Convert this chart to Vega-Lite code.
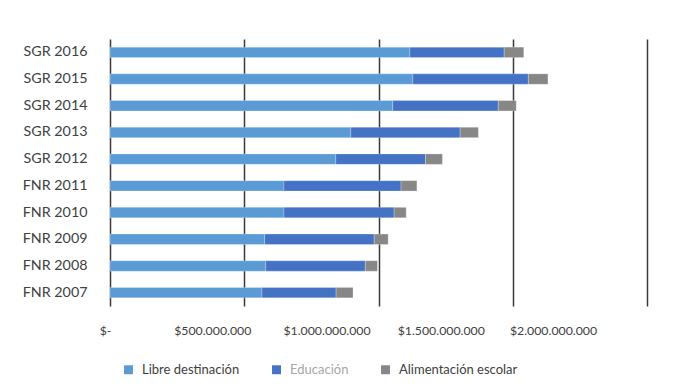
{
  "$schema": "https://vega.github.io/schema/vega-lite/v6.json",
  "width": 537,
  "height": 267,
  "autosize": {"type": "none"},
  "padding": {"left": 110, "top": 39, "right": 48, "bottom": 80},
  "background": "white",
  "data": {
    "values": [
      {"fondo": "SGR 2016", "serie": "Libre destinación", "k": 1, "valor": 1117000000},
      {"fondo": "SGR 2016", "serie": "Educación", "k": 2, "valor": 351000000},
      {"fondo": "SGR 2016", "serie": "Alimentación escolar", "k": 3, "valor": 73000000},
      {"fondo": "SGR 2015", "serie": "Libre destinación", "k": 1, "valor": 1128000000},
      {"fondo": "SGR 2015", "serie": "Educación", "k": 2, "valor": 430000000},
      {"fondo": "SGR 2015", "serie": "Alimentación escolar", "k": 3, "valor": 73000000},
      {"fondo": "SGR 2014", "serie": "Libre destinación", "k": 1, "valor": 1053000000},
      {"fondo": "SGR 2014", "serie": "Educación", "k": 2, "valor": 393000000},
      {"fondo": "SGR 2014", "serie": "Alimentación escolar", "k": 3, "valor": 67000000},
      {"fondo": "SGR 2013", "serie": "Libre destinación", "k": 1, "valor": 897000000},
      {"fondo": "SGR 2013", "serie": "Educación", "k": 2, "valor": 407000000},
      {"fondo": "SGR 2013", "serie": "Alimentación escolar", "k": 3, "valor": 68000000},
      {"fondo": "SGR 2012", "serie": "Libre destinación", "k": 1, "valor": 841000000},
      {"fondo": "SGR 2012", "serie": "Educación", "k": 2, "valor": 334000000},
      {"fondo": "SGR 2012", "serie": "Alimentación escolar", "k": 3, "valor": 63000000},
      {"fondo": "FNR 2011", "serie": "Libre destinación", "k": 1, "valor": 648000000},
      {"fondo": "FNR 2011", "serie": "Educación", "k": 2, "valor": 436000000},
      {"fondo": "FNR 2011", "serie": "Alimentación escolar", "k": 3, "valor": 59000000},
      {"fondo": "FNR 2010", "serie": "Libre destinación", "k": 1, "valor": 648000000},
      {"fondo": "FNR 2010", "serie": "Educación", "k": 2, "valor": 410000000},
      {"fondo": "FNR 2010", "serie": "Alimentación escolar", "k": 3, "valor": 45000000},
      {"fondo": "FNR 2009", "serie": "Libre destinación", "k": 1, "valor": 576000000},
      {"fondo": "FNR 2009", "serie": "Educación", "k": 2, "valor": 408000000},
      {"fondo": "FNR 2009", "serie": "Alimentación escolar", "k": 3, "valor": 52000000},
      {"fondo": "FNR 2008", "serie": "Libre destinación", "k": 1, "valor": 580000000},
      {"fondo": "FNR 2008", "serie": "Educación", "k": 2, "valor": 371000000},
      {"fondo": "FNR 2008", "serie": "Alimentación escolar", "k": 3, "valor": 45000000},
      {"fondo": "FNR 2007", "serie": "Libre destinación", "k": 1, "valor": 566000000},
      {"fondo": "FNR 2007", "serie": "Educación", "k": 2, "valor": 276000000},
      {"fondo": "FNR 2007", "serie": "Alimentación escolar", "k": 3, "valor": 63000000}
    ]
  },
  "mark": {"type": "bar", "stroke": "white", "strokeOpacity": 0.35, "strokeWidth": 0.7},
  "encoding": {
    "y": {
      "field": "fondo",
      "type": "nominal",
      "sort": ["SGR 2016", "SGR 2015", "SGR 2014", "SGR 2013", "SGR 2012", "FNR 2011", "FNR 2010", "FNR 2009", "FNR 2008", "FNR 2007"],
      "scale": {"paddingInner": 0.61, "paddingOuter": 0.305},
      "axis": {
        "title": null,
        "domain": false,
        "ticks": false,
        "labelPadding": 23,
        "labelFont": "Lato",
        "labelFontSize": 14.3,
        "labelColor": "#404040"
      }
    },
    "x": {
      "field": "valor",
      "type": "quantitative",
      "stack": "zero",
      "scale": {"domain": [0, 2000000000], "nice": false},
      "axis": {
        "title": null,
        "values": [0, 500000000, 1000000000, 1500000000, 2000000000],
        "labelExpr": "datum.value == 0 ? '$-' : '$' + replace(format(datum.value, ',.0f'), /,/g, '.')",
        "domain": false,
        "ticks": false,
        "grid": true,
        "gridColor": "#3a3a3a",
        "gridWidth": 1.5,
        "labelOverlap": false,
        "labelFlush": false,
        "labelAlign": "center",
        "labelOffset": {"expr": "datum.value == 0 ? -5 : datum.value == 500000000 ? -32 : datum.value == 1000000000 ? -52 : datum.value == 1500000000 ? -72 : -94"},
        "labelPadding": 18,
        "labelFont": "Lato",
        "labelFontSize": 12.3,
        "labelColor": "#404040"
      }
    },
    "color": {
      "field": "serie",
      "type": "nominal",
      "scale": {
        "domain": ["Libre destinación", "Educación", "Alimentación escolar"],
        "range": ["#5b9bd5", "#4472c4", "#878787"]
      },
      "legend": {
        "title": null,
        "orient": "none",
        "direction": "horizontal",
        "legendX": 12,
        "legendY": 324,
        "symbolType": "square",
        "symbolSize": 80,
        "symbolStrokeWidth": 0,
        "symbolOpacity": 1,
        "labelOffset": 7,
        "columnPadding": 30,
        "labelFont": "Lato",
        "labelFontSize": 13,
        "labelColor": {"expr": "datum.label == 'Educación' ? '#a6a6a6' : '#404040'"}
      }
    },
    "order": {"field": "k", "type": "quantitative"}
  },
  "config": {
    "view": {"stroke": null}
  }
}
